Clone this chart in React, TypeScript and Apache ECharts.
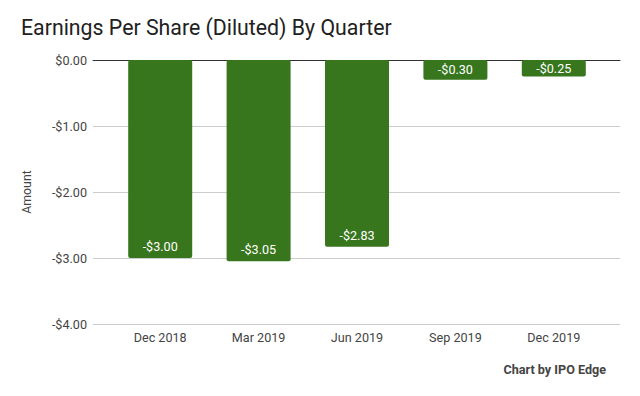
import React, { useEffect, useRef } from "react";
import * as echarts from "echarts";

const categories = ["Dec 2018", "Mar 2019", "Jun 2019", "Sep 2019", "Dec 2019"];
const eps = [-3.0, -3.05, -2.83, -0.3, -0.25];
const yTicks = [-4, -3, -2, -1, 0];

const fmt = (v: number) => (v === 0 ? "$0.00" : (v < 0 ? "-$" : "$") + Math.abs(v).toFixed(2));

export default function App() {
  const ref = useRef<HTMLDivElement>(null);
  useEffect(() => {
    if (!ref.current) return;
    const chart = echarts.init(ref.current, undefined, { renderer: "svg" });
    const font = "Roboto";
    const fs = 12.6;
    chart.setOption({
      animation: false,
      textStyle: { fontFamily: font },
      title: {
        text: "Earnings Per Share (Diluted) By Quarter",
        left: 21,
        top: 17,
        padding: 0,
        textStyle: { fontFamily: font, fontSize: 21.3, fontWeight: "normal", color: "#212121" },
      },
      graphic: [
        {
          type: "text",
          x: 606,
          y: 369,
          style: {
            text: "Chart by IPO Edge",
            fontFamily: font,
            fontSize: fs,
            fontWeight: "bold",
            fill: "#444444",
            textAlign: "right",
            textVerticalAlign: "middle",
          },
        },
      ],
      grid: [
        { left: 93, right: 20, top: 60, bottom: 72 },
        { left: 111, right: 37, top: 60, bottom: 72 },
      ],
      xAxis: [
        {
          type: "category",
          gridIndex: 0,
          data: categories,
          position: "top",
          axisLine: { show: true, onZero: false, lineStyle: { color: "#333333", width: 1 } },
          axisTick: { show: false },
          axisLabel: { show: false },
          splitLine: { show: false },
        },
        {
          type: "category",
          gridIndex: 1,
          data: categories,
          axisLine: { show: false },
          axisTick: { show: false },
          axisLabel: { show: true, margin: 7, fontSize: fs, color: "#444444", fontFamily: font },
          splitLine: { show: false },
        },
      ],
      yAxis: [
        {
          type: "value",
          gridIndex: 0,
          min: yTicks[0],
          max: yTicks[yTicks.length - 1],
          interval: 1,
          name: "Amount",
          nameLocation: "middle",
          nameGap: 60,
          nameTextStyle: { fontFamily: font, fontSize: 12.3, color: "#444444" },
          axisLine: { show: false },
          axisTick: { show: false },
          axisLabel: { margin: 6, fontSize: fs, color: "#444444", fontFamily: font, formatter: fmt },
          splitLine: { show: true, lineStyle: { color: "#cccccc", width: 1 } },
        },
        {
          type: "value",
          gridIndex: 1,
          min: yTicks[0],
          max: yTicks[yTicks.length - 1],
          interval: 1,
          show: false,
          splitLine: { show: false },
        },
      ],
      series: [
        {
          type: "bar",
          xAxisIndex: 1,
          yAxisIndex: 1,
          barWidth: 64,
          itemStyle: { color: "#38761d", borderRadius: 2 },
          label: {
            show: true,
            position: "insideBottom",
            distance: 5,
            color: "#ffffff",
            fontSize: fs,
            fontFamily: font,
            formatter: (p: any) => fmt(p.value),
          },
          data: eps.map((v) =>
            Math.abs(v) < 0.5 ? { value: v, label: { position: "inside" } } : { value: v }
          ),
        },
      ],
    });
    return () => chart.dispose();
  }, []);
  return (
    <div
      ref={ref}
      style={{ position: "fixed", left: 0, top: 0, width: 640, height: 396, background: "#ffffff" }}
    />
  );
}
